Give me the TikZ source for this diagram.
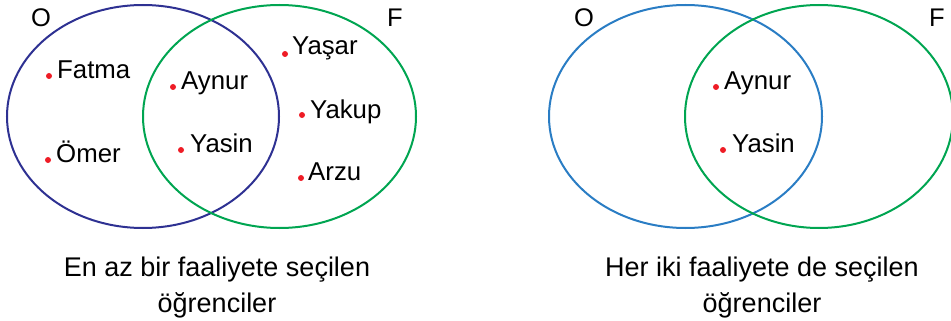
\documentclass[tikz,border=0pt]{standalone}
\usepackage{fontspec}
\setmainfont{Liberation Sans}
\definecolor{setO}{HTML}{2E3192}
\definecolor{setOb}{HTML}{2A7DC4}
\definecolor{setF}{HTML}{00A551}
\definecolor{dotred}{HTML}{EE1C25}
\begin{document}
\begin{tikzpicture}[x=1pt,y=-1pt,
  setline/.style={line width=2pt},
  member/.style={anchor=base west,inner sep=0pt,font=\fontsize{25.8}{30}\selectfont},
  setname/.style={anchor=base,inner sep=0pt,font=\fontsize{25.5}{30}\selectfont},
  caption/.style={anchor=base,inner sep=0pt,align=center,font=\fontsize{27}{36}\selectfont},
  dot/.style={dotred}]
\useasboundingbox (0,0) rectangle (951,321);

% ---- left diagram: at least one activity ----
\draw[setline,setO] (143,116.5) ellipse[x radius=136pt,y radius=111.5pt];
\draw[setline,setF] (279.5,116.5) ellipse[x radius=136.5pt,y radius=111.5pt];
\node[setname] (lO) at (41,27) {O};
\node[setname] (lF) at (395,27) {F};

\fill[dot] (49,76) circle[radius=3pt];
\node[member] (fatma) at (57,79) {Fatma};
\fill[dot] (48,160) circle[radius=3pt];
\node[member] (omer) at (56,162) {Ömer};
\fill[dot] (173,87) circle[radius=3pt];
\node[member] (aynurL) at (181,90) {Aynur};
\fill[dot] (181,150) circle[radius=3pt];
\node[member] (yasinL) at (190,152) {Yasin};
\fill[dot] (285,54) circle[radius=3pt];
\node[member] (yasar) at (292,55) {Yaşar};
\fill[dot] (302,115) circle[radius=3pt];
\node[member] (yakup) at (310,118) {Yakup};
\fill[dot] (301,178) circle[radius=3pt];
\node[member] (arzu) at (308,180) {Arzu};

% the base anchor of a two-line node sits on its last line
\node[caption] (capL) at (217,312) {En az bir faaliyete seçilen\\öğrenciler};

% ---- right diagram: both activities ----
\draw[setline,setOb] (685.5,116.5) ellipse[x radius=136.5pt,y radius=111.5pt];
\draw[setline,setF] (819,116.5) ellipse[x radius=134pt,y radius=111.5pt];
\node[setname] (rO) at (584,27) {O};
\node[setname] (rF) at (937,27) {F};

\fill[dot] (716,87) circle[radius=3pt];
\node[member] (aynurR) at (724,90) {Aynur};
\fill[dot] (723,150) circle[radius=3pt];
\node[member] (yasinR) at (732,152) {Yasin};

\node[caption] (capR) at (762,312) {Her iki faaliyete de seçilen\\öğrenciler};
\end{tikzpicture}
\end{document}
